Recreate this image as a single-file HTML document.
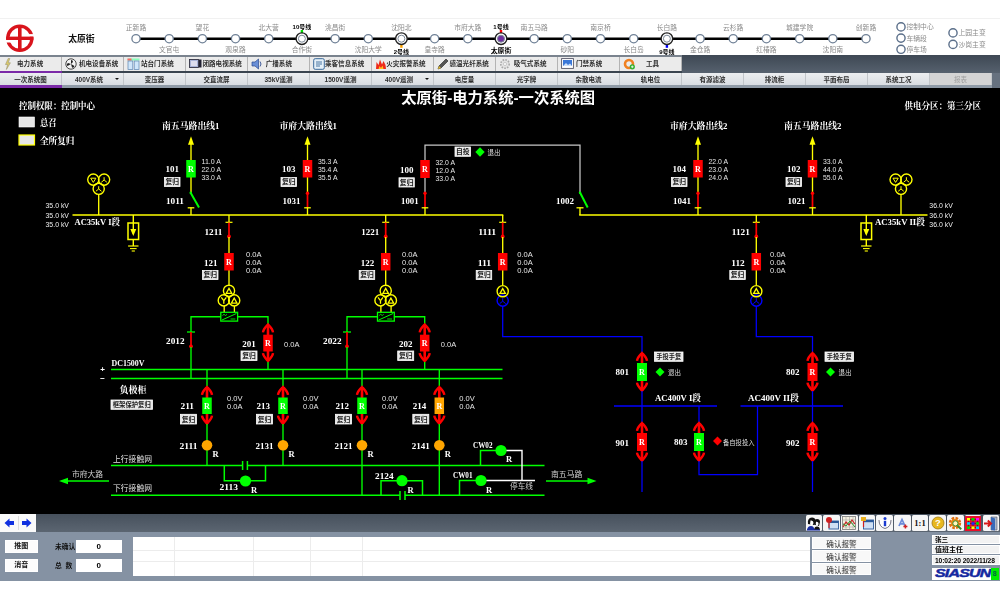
<!DOCTYPE html>
<html lang="zh-CN"><head><meta charset="utf-8"><title>太原街-电力系统-一次系统图</title>
<style>
html,body{margin:0;padding:0;background:#fff;}
body{width:1000px;height:600px;position:relative;overflow:hidden;font-family:"Liberation Sans","Noto Sans CJK SC",sans-serif;}
.sf{font-family:"Liberation Serif","Noto Serif CJK SC",serif;}
.ss{font-family:"Liberation Sans","Noto Sans CJK SC",sans-serif;}
#main{position:absolute;left:0;top:87.9px;width:1000px;height:425.9px;background:#000;}
#ov{position:absolute;left:0;top:0;width:1000px;height:600px;will-change:transform;}
.b1,.b2,.btn,.lab,.num,.ack,.inf{will-change:transform;}
#hdrline{position:absolute;left:0;top:18px;width:1000px;height:1px;background:#f1f1f1;}
#tb1{position:absolute;left:0;top:55px;width:1000px;height:18px;background:linear-gradient(#3e4854,#56616e);}
#tb2{position:absolute;left:0;top:73px;width:1000px;height:15px;background:#66717f;}
#tb1 .bg{position:absolute;left:0;top:0;width:682px;height:18px;background:#ebebeb;border-top:2px solid #7a838e;border-bottom:2px solid #3a4550;box-sizing:border-box;}
#tb2 .bg{position:absolute;left:0;top:0;width:992px;height:15px;background:linear-gradient(#eceef0,#d9dde2);border-bottom:3px solid #909ba7;box-sizing:border-box;}
.b1{position:absolute;top:2px;width:62px;height:14px;border-right:1px solid #b4b4b4;box-sizing:border-box;font-size:6.55px;font-weight:bold;color:#2e2e2e;white-space:nowrap;}
.b1.act::after{content:"";position:absolute;left:0;top:14px;width:62px;height:2px;background:#7a2aa8;}
.b1 .ic{position:absolute;left:3px;top:0.8px;line-height:0;}
.b1 .lb{position:absolute;left:17px;top:0.2px;line-height:14px;}
.b2{position:absolute;top:0;width:62px;height:12px;border-right:1px solid #c2c6ca;box-sizing:border-box;font-size:6.5px;font-weight:bold;color:#2e2e2e;line-height:13.4px;text-align:center;white-space:nowrap;}
.b2.act::after{content:"";position:absolute;left:0;top:12px;width:62px;height:3px;background:#7a2aa8;}
.b2.dis{color:#a0a0a0;background:#d4d4d4;font-weight:normal;}
.dd{position:absolute;right:4.5px;top:5.2px;width:0;height:0;border-left:2.2px solid transparent;border-right:2.2px solid transparent;border-top:2.8px solid #111;}
#bb{z-index:2;position:absolute;left:0;top:513.8px;width:1000px;height:18.5px;background:linear-gradient(#47515d,#5b6571);}
#navbg{position:absolute;left:0;top:0;width:36px;height:18.5px;background:#fafafa;}
.nav{position:absolute;top:2.2px;width:15px;height:14px;background:#fafafa;line-height:0;}
.bi{position:absolute;top:1.4px;width:16.7px;height:16px;background:#f6f6f6;border-radius:1.5px;box-sizing:border-box;display:flex;align-items:center;justify-content:center;line-height:0;}
#bp{position:absolute;left:0;top:531px;width:1000px;height:49.5px;background:#8592a3;}
.btn{position:absolute;background:#fcfcfc;border:1px solid #fff;box-sizing:border-box;font-size:7px;font-weight:bold;color:#111;text-align:center;}
.lab{position:absolute;font-size:7px;font-weight:bold;color:#111;white-space:nowrap;}
.num{position:absolute;background:#fff;font-size:8px;font-weight:bold;color:#000;text-align:center;}
#tbl{position:absolute;left:133px;top:6px;width:677px;height:39px;background:#fff;}
#tbl i{position:absolute;background:#ececec;display:block;}
.ack{position:absolute;left:812px;width:59px;height:12.4px;background:#f8f8f8;border:1px solid #fff;box-sizing:border-box;font-size:7.6px;color:#2a2a2a;text-align:center;line-height:13px;}
.inf{position:absolute;left:931.5px;width:67.5px;background:#f2f2f2;border:0.6px solid #fff;box-sizing:border-box;font-size:7.4px;font-weight:bold;color:#000;white-space:nowrap;padding-left:2px;}
</style></head><body>
<div id="hdrline"></div>
<div id="tb1"><div class="bg"></div><div class="b1 act" style="left:0px"><span class="ic"><svg width="10" height="12" viewBox="0 0 10 12"><path d="M5.2,0.5 L2.5,6.5 H4.6 L3.4,11.5 L7.4,4.8 H5.2 L6.8,0.5 Z" fill="#dccb6a" stroke="#9a9370" stroke-width="0.6"/></svg></span><span class="lb" style="left:17px">电力系统</span></div><div class="b1" style="left:62px"><span class="ic"><svg width="12" height="12" viewBox="0 0 12 12"><circle cx="6" cy="6" r="5.2" fill="#f4f4f4" stroke="#333" stroke-width="0.9"/><path d="M6,6 L6,2 A2,2 0 0 1 8,4 Z M6,6 L9.5,8 A2,2 0 0 1 7,9.5 Z M6,6 L2.5,8 A2,2 0 0 1 3,5 Z" fill="#222"/></svg></span><span class="lb" style="left:17px">机电设备系统</span></div><div class="b1" style="left:124px"><span class="ic"><svg width="13" height="12" viewBox="0 0 13 12"><rect x="0.5" y="0.5" width="12" height="2" fill="#8fb"/><rect x="0.5" y="0.5" width="4" height="2" fill="#f66"/><rect x="1" y="3" width="4.8" height="8.5" fill="#cfe6fa" stroke="#5b84b0" stroke-width="0.7"/><rect x="7.2" y="3" width="4.8" height="8.5" fill="#cfe6fa" stroke="#5b84b0" stroke-width="0.7"/></svg></span><span class="lb" style="left:17px">站台门系统</span></div><div class="b1" style="left:186px"><span class="ic"><svg width="13" height="11" viewBox="0 0 13 11"><rect x="0.5" y="1.5" width="9" height="8" fill="#aab4d8" stroke="#334" stroke-width="0.9"/><rect x="2" y="3" width="6" height="5" fill="#dde"/><rect x="10" y="1.5" width="2.5" height="8" fill="#223"/></svg></span><span class="lb" style="left:16.5px">闭路电视系统</span></div><div class="b1" style="left:248px"><span class="ic"><svg width="12" height="12" viewBox="0 0 12 12"><path d="M1,4 H4 L7.5,1 V11 L4,8 H1 Z" fill="#6a8fd6" stroke="#2b4a90" stroke-width="0.7"/><path d="M9,3.5 Q11,6 9,8.5" fill="none" stroke="#2b4a90" stroke-width="0.9"/></svg></span><span class="lb" style="left:17.75px">广播系统</span></div><div class="b1" style="left:310px"><span class="ic"><svg width="12" height="12" viewBox="0 0 12 12"><rect x="0.7" y="0.7" width="10.6" height="10.6" rx="1.5" fill="#e6f0f8" stroke="#3b6a9a" stroke-width="1"/><path d="M3,4 H9 M3,6 H9 M3,8 H7" stroke="#3b6a9a" stroke-width="0.9"/></svg></span><span class="lb" style="left:15px">乘客信息系统</span></div><div class="b1" style="left:372px"><span class="ic"><svg width="12" height="12" viewBox="0 0 12 12"><path d="M1,11 L1.5,4 L3.5,7 L5,1.5 L7,6.5 L8.5,3 L10.5,7 L11,11 Z" fill="#ee2a1a"/><path d="M3.5,11 L4.5,8 L6,10 L7.5,7.5 L8.5,11 Z" fill="#ffc020"/></svg></span><span class="lb" style="left:14.3px">火灾报警系统</span></div><div class="b1" style="left:434px"><span class="ic"><svg width="12" height="12" viewBox="0 0 12 12"><path d="M1,11 L2,8 L9,1 L11,3 L4,10 Z" fill="#555" stroke="#222" stroke-width="0.6"/><path d="M1,11 L2,8 L4,10 Z" fill="#e8c030"/></svg></span><span class="lb" style="left:15.5px">感温光纤系统</span></div><div class="b1" style="left:496px"><span class="ic"><svg width="12" height="12" viewBox="0 0 12 12"><circle cx="6" cy="6" r="4.2" fill="#e4e4e4" stroke="#aaa" stroke-width="1.6" stroke-dasharray="1.6 1.2"/><circle cx="6" cy="6" r="1.6" fill="#f8f8f8" stroke="#bbb" stroke-width="0.7"/></svg></span><span class="lb" style="left:17.75px">吸气式系统</span></div><div class="b1" style="left:558px"><span class="ic"><svg width="13" height="11" viewBox="0 0 13 11"><rect x="0.6" y="0.6" width="11.8" height="9.8" fill="#fff" stroke="#556" stroke-width="0.9"/><rect x="2" y="2" width="9" height="6" fill="#3b78d8"/><path d="M2,8 L5,5 L7,7 L9,5.5 L11,8 Z" fill="#cfe0f8"/></svg></span><span class="lb" style="left:18px">门禁系统</span></div><div class="b1" style="left:620px"><span class="ic"><svg width="13" height="12" viewBox="0 0 13 12"><circle cx="6" cy="6" r="4" fill="none" stroke="#f08020" stroke-width="2.6"/><circle cx="9.3" cy="8.8" r="2.6" fill="#30b030"/><path d="M8,8.8 H10.6 M9.3,7.5 V10.1" stroke="#fff" stroke-width="0.8"/></svg></span><span class="lb" style="left:26px">工具</span></div></div>
<div id="tb2"><div class="bg"></div><div class="b2 act" style="left:0px">一次系统图</div><div class="b2" style="left:62px;padding-right:7px">400V系统<span class="dd"></span></div><div class="b2" style="left:124px">变压器</div><div class="b2" style="left:186px">交直流屏</div><div class="b2" style="left:248px">35kV遥测</div><div class="b2" style="left:310px">1500V遥测</div><div class="b2" style="left:372px;padding-right:7px">400V遥测<span class="dd"></span></div><div class="b2" style="left:434px">电度量</div><div class="b2" style="left:496px">光字牌</div><div class="b2" style="left:558px">杂散电流</div><div class="b2" style="left:620px">轨电位</div><div class="b2" style="left:682px">有源滤波</div><div class="b2" style="left:744px">排流柜</div><div class="b2" style="left:806px">平面布局</div><div class="b2" style="left:868px">系统工况</div><div class="b2 dis" style="left:930px">报表</div></div>
<div id="main"></div>
<div id="bb"><div id="navbg"></div><div style="position:absolute;left:17.6px;top:2px;width:0.8px;height:14.5px;background:#ddd"></div>
 <div class="nav" style="left:1.7px"><svg width="15" height="14" viewBox="1 1 15 14"><path d="M3.5,8 L8.5,3.5 V6 H13 V10 H8.5 V12.5 Z" fill="#1030e0"/></svg></div>
 <div class="nav" style="left:18.7px"><svg width="15" height="14" viewBox="1 1 15 14"><path d="M13.5,8 L8.5,3.5 V6 H4 V10 H8.5 V12.5 Z" fill="#1030e0"/></svg></div>
 <div class="bi" style="left:805.5px"><svg width="15" height="15" viewBox="0 0 15 15"><path d="M2,8 Q1,2 6,1.5 Q9,1.5 9.5,4 L8,9 Z" fill="#111"/><path d="M7.5,8.5 Q7,3.5 11,3 Q14,3.2 14,6 L13,10 Z" fill="#111"/><path d="M4.5,4.5 Q7.5,4 7.5,7 Q7,9.5 5,9.5 Q3.5,8 4.5,4.5 Z" fill="#fff"/><path d="M10,5.8 Q12.8,5.6 12.6,8 Q12,10.2 10.5,10.2 Q9.2,9 10,5.8 Z" fill="#fff"/><path d="M1,14 Q1.5,10 5,10 Q8,10 8.5,14 Z" fill="#1a2ea0"/><path d="M8,14 Q8.5,10.6 11,10.6 Q13.6,10.6 14,14 Z" fill="#111"/><rect x="1" y="13.4" width="13" height="1.2" fill="#1a2ea0"/></svg></div><div class="bi" style="left:823.2px"><svg width="14" height="14" viewBox="0 0 14 14"><rect x="4" y="5" width="9.5" height="8" fill="#cfe0f4" stroke="#2b5a9a" stroke-width="0.9"/><rect x="4" y="5" width="9.5" height="2" fill="#2b5a9a"/><circle cx="4" cy="4" r="3" fill="#d02020"/><path d="M4,7 V12" stroke="#d02020" stroke-width="1.2"/></svg></div><div class="bi" style="left:840.9px"><svg width="14" height="14" viewBox="0 0 14 14"><rect x="0.5" y="0.5" width="13" height="13" fill="#f4f0e0" stroke="#777" stroke-width="0.8"/><path d="M0.5,4 H13.5 M0.5,7.5 H13.5 M0.5,11 H13.5 M4,0.5 V13.5 M7.5,0.5 V13.5 M11,0.5 V13.5" stroke="#999" stroke-width="0.5"/><path d="M1,11 L4,6 L7,9 L10,4 L13,8" stroke="#d02020" stroke-width="1.1" fill="none"/><path d="M1,8 L4,10 L8,5 L13,11" stroke="#2a9a2a" stroke-width="1" fill="none"/></svg></div><div class="bi" style="left:858.6px"><svg width="14" height="14" viewBox="0 0 14 14"><rect x="3.5" y="4" width="10" height="9" fill="#cfe0f4" stroke="#2b5a9a" stroke-width="0.9"/><rect x="3.5" y="4" width="10" height="2.2" fill="#2b5a9a"/><rect x="1" y="1" width="5" height="4" fill="#e8b020"/><path d="M3.5,5 V11" stroke="#d02020" stroke-width="1.2"/></svg></div><div class="bi" style="left:876.3px"><svg width="14" height="14" viewBox="0 0 14 14"><path d="M1,4 Q1,11 7,12.5 Q13,11 13,4" fill="#fff" stroke="#667" stroke-width="0.9"/><circle cx="7" cy="2.6" r="1.5" fill="#1a3ad0"/><rect x="5.8" y="4.8" width="2.4" height="5.4" fill="#1a3ad0"/></svg></div><div class="bi" style="left:894.0px"><svg width="14" height="14" viewBox="0 0 14 14"><path d="M4,10 L7,3.5 L10,10 M5.2,7.8 H8.8" stroke="#6a8ad8" stroke-width="1.7" fill="none"/><path d="M8.4,10.4 H12.4 M10.4,8.4 V12.4" stroke="#d02020" stroke-width="1.5"/></svg></div><div class="bi" style="left:911.7px"><svg width="14" height="14" viewBox="0 0 14 14"><text x="7" y="10.4" font-family="Liberation Serif,serif" font-size="8.5" font-weight="bold" text-anchor="middle" fill="#111">1:1</text></svg></div><div class="bi" style="left:929.4px"><svg width="14" height="14" viewBox="0 0 14 14"><circle cx="7" cy="7" r="6" fill="#e8b820" stroke="#a07a10" stroke-width="0.8"/><text x="7" y="10.4" font-family="Liberation Sans,sans-serif" font-size="9.5" font-weight="bold" text-anchor="middle" fill="#fff">?</text></svg></div><div class="bi" style="left:947.1px"><svg width="15" height="15" viewBox="0 0 15 15"><circle cx="7" cy="7" r="4.6" fill="none" stroke="#e07010" stroke-width="3.2" stroke-dasharray="2.4 1.2"/><circle cx="7" cy="7" r="4" fill="#e88a18"/><circle cx="7.4" cy="7.4" r="2.6" fill="#fff6c0" stroke="#3a8a2a" stroke-width="1"/><path d="M9.4,9.4 L13.2,13.2" stroke="#3a8a2a" stroke-width="2"/></svg></div><div class="bi" style="left:964.8px"><svg width="16" height="15" viewBox="0 0 16 15"><rect x="0" y="0" width="16" height="15" fill="#e8102a"/><path d="M3,3.5 H13 M3,7.5 H13 M3,11.5 H13 M3.5,3 V12 M8,3 V12 M12.5,3 V12" stroke="#222" stroke-width="0.6"/><rect x="2" y="2" width="3" height="2.6" fill="#ff0"/><rect x="6.5" y="2" width="3" height="2.6" fill="#0d0"/><rect x="11" y="2" width="3" height="2.6" fill="#f0f"/><rect x="2" y="6.2" width="3" height="2.6" fill="#0cf"/><rect x="6.5" y="6.2" width="3" height="2.6" fill="#22f"/><rect x="11" y="6.2" width="3" height="2.6" fill="#0d0"/><rect x="2" y="10.4" width="3" height="2.6" fill="#0d0"/><rect x="6.5" y="10.4" width="3" height="2.6" fill="#ff0"/><rect x="11" y="10.4" width="3" height="2.6" fill="#0cf"/></svg></div><div class="bi" style="left:982.5px"><svg width="15" height="15" viewBox="0 0 15 15"><path d="M8,1 H14 V14 H8 Z" fill="#aab8cc" stroke="#556" stroke-width="0.6"/><path d="M8,1 L12,2.5 V14.5 L8,14 Z" fill="#3a6ab8"/><path d="M1,7.5 H7.5 M4.8,4.6 L8,7.5 L4.8,10.4" stroke="#d81818" stroke-width="2" fill="none"/></svg></div>
</div>
<div id="bp">
 <div class="btn" style="left:5px;top:8.7px;width:32.5px;height:12.7px;line-height:10.7px;">推图</div>
 <div class="btn" style="left:5px;top:27.7px;width:32.5px;height:12.8px;line-height:10.8px;">消音</div>
 <div class="lab" style="left:54.5px;top:9.8px;font-size:6.8px">未确认</div>
 <div class="lab" style="left:54.5px;top:29px;font-size:6.8px">总&nbsp;&nbsp;数</div>
 <div class="num" style="left:76px;top:8.5px;width:45.7px;height:12.5px;line-height:13.6px;">0</div>
 <div class="num" style="left:76px;top:27.7px;width:45.7px;height:12.8px;line-height:13.8px;">0</div>
 <div id="tbl"><i style="left:0;top:12.5px;width:677px;height:1px"></i><i style="left:0;top:24px;width:677px;height:1px"></i><i style="left:40.7px;top:0;width:1px;height:39px"></i><i style="left:120px;top:0;width:1px;height:39px"></i><i style="left:177px;top:0;width:1px;height:39px"></i><i style="left:229px;top:0;width:1px;height:39px"></i></div>
 <div class="ack" style="top:6px">确认报警</div>
 <div class="ack" style="top:19px">确认报警</div>
 <div class="ack" style="top:32px">确认报警</div>
 <div class="inf" style="top:3.7px;height:9.3px;line-height:8.6px;font-size:6.6px;">张三</div>
 <div class="inf" style="top:14px;height:9.3px;line-height:8.6px;font-size:7px;">值班主任</div>
 <div class="inf" style="top:24.3px;height:9.7px;line-height:9px;font-size:6.7px;letter-spacing:-0.1px;">10:02:20 2022/11/28</div>
 <div style="position:absolute;left:931.5px;top:36.5px;width:67.5px;height:12.5px;background:#fff;"></div>
 <div style="position:absolute;left:935px;top:36px;width:56px;height:13px;line-height:13px;font-size:11.5px;font-weight:bold;font-style:italic;color:#1428a0;-webkit-text-stroke:0.45px #1428a0;letter-spacing:-0.6px;transform:scaleX(1.39);transform-origin:left;">SIASUN</div>
 <div style="position:absolute;left:991px;top:37px;width:7.5px;height:12px;background:#00ee00;font-size:7px;font-weight:bold;line-height:12px;text-align:center;color:#064;">8</div>
</div>
<svg id="ov" viewBox="0 0 1000 600" width="1000" height="600">
<line x1="136.0" y1="38.7" x2="866.0" y2="38.7" stroke="#000" stroke-width="2.6"/>
<circle cx="136.0" cy="38.7" r="4.1" fill="#fff" stroke="#6f8096" stroke-width="1.3"/>
<text class="ss" x="136.0" y="29.9" font-size="6.8" fill="#8a8a8a" text-anchor="middle">正新路</text>
<circle cx="169.2" cy="38.7" r="4.1" fill="#fff" stroke="#6f8096" stroke-width="1.3"/>
<text class="ss" x="169.2" y="52.3" font-size="6.8" fill="#8a8a8a" text-anchor="middle">文官屯</text>
<circle cx="202.4" cy="38.7" r="4.1" fill="#fff" stroke="#6f8096" stroke-width="1.3"/>
<text class="ss" x="202.4" y="29.9" font-size="6.8" fill="#8a8a8a" text-anchor="middle">望花</text>
<circle cx="235.5" cy="38.7" r="4.1" fill="#fff" stroke="#6f8096" stroke-width="1.3"/>
<text class="ss" x="235.5" y="52.3" font-size="6.8" fill="#8a8a8a" text-anchor="middle">观泉路</text>
<circle cx="268.7" cy="38.7" r="4.1" fill="#fff" stroke="#6f8096" stroke-width="1.3"/>
<text class="ss" x="268.7" y="29.9" font-size="6.8" fill="#8a8a8a" text-anchor="middle">北大营</text>
<rect x="300.7" y="30" width="2.4" height="3.2" fill="#00dd00"/>
<text class="ss" x="301.9" y="29" font-size="6" font-weight="bold" fill="#000" text-anchor="middle">10号线</text>
<circle cx="301.9" cy="38.7" r="5.8" fill="#fff" stroke="#222" stroke-width="1.4"/>
<circle cx="301.9" cy="38.7" r="3.5" fill="#fff" stroke="#7a8796" stroke-width="1"/>
<text class="ss" x="301.9" y="52.3" font-size="6.8" fill="#8a8a8a" text-anchor="middle">合作街</text>
<circle cx="335.1" cy="38.7" r="4.1" fill="#fff" stroke="#6f8096" stroke-width="1.3"/>
<text class="ss" x="335.1" y="29.9" font-size="6.8" fill="#8a8a8a" text-anchor="middle">洮昌街</text>
<circle cx="368.3" cy="38.7" r="4.1" fill="#fff" stroke="#6f8096" stroke-width="1.3"/>
<text class="ss" x="368.3" y="52.3" font-size="6.8" fill="#8a8a8a" text-anchor="middle">沈阳大学</text>
<rect x="400.2" y="44.6" width="2.4" height="3.2" fill="#ffa500"/>
<text class="ss" x="401.4" y="54" font-size="6" font-weight="bold" fill="#000" text-anchor="middle">2号线</text>
<circle cx="401.4" cy="38.7" r="5.8" fill="#fff" stroke="#222" stroke-width="1.4"/>
<circle cx="401.4" cy="38.7" r="3.5" fill="#fff" stroke="#7a8796" stroke-width="1"/>
<text class="ss" x="401.4" y="29.9" font-size="6.8" fill="#8a8a8a" text-anchor="middle">沈阳北</text>
<circle cx="434.6" cy="38.7" r="4.1" fill="#fff" stroke="#6f8096" stroke-width="1.3"/>
<text class="ss" x="434.6" y="52.3" font-size="6.8" fill="#8a8a8a" text-anchor="middle">皇寺路</text>
<circle cx="467.8" cy="38.7" r="4.1" fill="#fff" stroke="#6f8096" stroke-width="1.3"/>
<text class="ss" x="467.8" y="29.9" font-size="6.8" fill="#8a8a8a" text-anchor="middle">市府大路</text>
<rect x="499.8" y="30" width="2.4" height="3.2" fill="#ff0000"/>
<text class="ss" x="501.0" y="29" font-size="6" font-weight="bold" fill="#000" text-anchor="middle">1号线</text>
<circle cx="501.0" cy="38.7" r="5.8" fill="#fff" stroke="#222" stroke-width="1.4"/>
<circle cx="501.0" cy="38.7" r="3.5" fill="#7030a0" stroke="#7a8796" stroke-width="1"/>
<text class="ss" x="501.0" y="52.5" font-size="6.9" font-weight="bold" fill="#000" text-anchor="middle">太原街</text>
<circle cx="534.2" cy="38.7" r="4.1" fill="#fff" stroke="#6f8096" stroke-width="1.3"/>
<text class="ss" x="534.2" y="29.9" font-size="6.8" fill="#8a8a8a" text-anchor="middle">南五马路</text>
<circle cx="567.3" cy="38.7" r="4.1" fill="#fff" stroke="#6f8096" stroke-width="1.3"/>
<text class="ss" x="567.3" y="52.3" font-size="6.8" fill="#8a8a8a" text-anchor="middle">砂阳</text>
<circle cx="600.5" cy="38.7" r="4.1" fill="#fff" stroke="#6f8096" stroke-width="1.3"/>
<text class="ss" x="600.5" y="29.9" font-size="6.8" fill="#8a8a8a" text-anchor="middle">南京桥</text>
<circle cx="633.7" cy="38.7" r="4.1" fill="#fff" stroke="#6f8096" stroke-width="1.3"/>
<text class="ss" x="633.7" y="52.3" font-size="6.8" fill="#8a8a8a" text-anchor="middle">长白岛</text>
<rect x="665.7" y="44.6" width="2.4" height="3.2" fill="#0000ff"/>
<text class="ss" x="666.9" y="54" font-size="6" font-weight="bold" fill="#000" text-anchor="middle">9号线</text>
<circle cx="666.9" cy="38.7" r="5.8" fill="#fff" stroke="#222" stroke-width="1.4"/>
<circle cx="666.9" cy="38.7" r="3.5" fill="#fff" stroke="#7a8796" stroke-width="1"/>
<text class="ss" x="666.9" y="29.9" font-size="6.8" fill="#8a8a8a" text-anchor="middle">长白路</text>
<circle cx="700.1" cy="38.7" r="4.1" fill="#fff" stroke="#6f8096" stroke-width="1.3"/>
<text class="ss" x="700.1" y="52.3" font-size="6.8" fill="#8a8a8a" text-anchor="middle">金仓路</text>
<circle cx="733.2" cy="38.7" r="4.1" fill="#fff" stroke="#6f8096" stroke-width="1.3"/>
<text class="ss" x="733.2" y="29.9" font-size="6.8" fill="#8a8a8a" text-anchor="middle">云杉路</text>
<circle cx="766.4" cy="38.7" r="4.1" fill="#fff" stroke="#6f8096" stroke-width="1.3"/>
<text class="ss" x="766.4" y="52.3" font-size="6.8" fill="#8a8a8a" text-anchor="middle">红椿路</text>
<circle cx="799.6" cy="38.7" r="4.1" fill="#fff" stroke="#6f8096" stroke-width="1.3"/>
<text class="ss" x="799.6" y="29.9" font-size="6.8" fill="#8a8a8a" text-anchor="middle">城建学院</text>
<circle cx="832.8" cy="38.7" r="4.1" fill="#fff" stroke="#6f8096" stroke-width="1.3"/>
<text class="ss" x="832.8" y="52.3" font-size="6.8" fill="#8a8a8a" text-anchor="middle">沈阳南</text>
<circle cx="866.0" cy="38.7" r="4.1" fill="#fff" stroke="#6f8096" stroke-width="1.3"/>
<text class="ss" x="866.0" y="29.9" font-size="6.8" fill="#8a8a8a" text-anchor="middle">创新路</text>
<circle cx="901" cy="26.9" r="4.1" fill="#fff" stroke="#5b6f8a" stroke-width="1.4"/>
<text class="ss" x="906.5" y="29.4" font-size="6.8" fill="#8a8a8a">控制中心</text>
<circle cx="901" cy="38.1" r="4.1" fill="#fff" stroke="#5b6f8a" stroke-width="1.4"/>
<text class="ss" x="906.5" y="40.6" font-size="6.8" fill="#8a8a8a">车辆段</text>
<circle cx="901" cy="49.3" r="4.1" fill="#fff" stroke="#5b6f8a" stroke-width="1.4"/>
<text class="ss" x="906.5" y="51.8" font-size="6.8" fill="#8a8a8a">停车场</text>
<circle cx="953" cy="32.9" r="4.1" fill="#fff" stroke="#5b6f8a" stroke-width="1.4"/>
<text class="ss" x="958.5" y="35.4" font-size="6.8" fill="#8a8a8a">上园主变</text>
<circle cx="953" cy="44.4" r="4.1" fill="#fff" stroke="#5b6f8a" stroke-width="1.4"/>
<text class="ss" x="958.5" y="46.9" font-size="6.8" fill="#8a8a8a">沙岗主变</text>
<g transform="translate(19.8,38.3)"><circle r="12.1" fill="none" stroke="#d9141c" stroke-width="3.3"/><rect x="8" y="-4.2" width="7" height="2.6" fill="#fff"/><rect x="-15" y="1.6" width="7" height="2.6" fill="#fff"/><rect x="-13.6" y="-1.7" width="27.2" height="3.4" fill="#d9141c"/><rect x="-1.8" y="-12.5" width="3.6" height="25" fill="#d9141c"/></g>
<text class="ss" x="68.2" y="41.6" font-size="9" font-weight="bold" fill="#111" textLength="26.5" lengthAdjust="spacingAndGlyphs">太原街</text>
<text class="ss" x="498.2" y="102.7" font-size="15" fill="#fff" font-weight="bold" text-anchor="middle" textLength="194" lengthAdjust="spacingAndGlyphs">太原街-电力系统-一次系统图</text>
<text class="sf" x="19" y="108.54" font-size="9" fill="#fff" font-weight="bold" text-anchor="start" textLength="76" lengthAdjust="spacingAndGlyphs">控制权限：控制中心</text>
<text class="sf" x="904.5" y="108.54" font-size="9" fill="#fff" font-weight="bold" text-anchor="start" textLength="76.5" lengthAdjust="spacingAndGlyphs">供电分区：第三分区</text>
<rect x="19" y="117" width="15.5" height="10" fill="#e6e6e6" stroke="#fff" stroke-width="0.6"/>
<text class="sf" x="40" y="125.54" font-size="9" fill="#fff" font-weight="bold" text-anchor="start" textLength="16.5" lengthAdjust="spacingAndGlyphs">总召</text>
<rect x="19" y="135" width="15.5" height="10" fill="#e6e6e6" stroke="#ffff00" stroke-width="1.2"/>
<text class="sf" x="40" y="143.54" font-size="9" fill="#fff" font-weight="bold" text-anchor="start" textLength="34.5" lengthAdjust="spacingAndGlyphs">全所复归</text>
<line x1="72.5" y1="215" x2="503.3" y2="215" stroke="#ffff00" stroke-width="1.6"/>
<line x1="579.2" y1="215" x2="927.5" y2="215" stroke="#ffff00" stroke-width="1.6"/>
<circle cx="93.3" cy="179.6" r="5.6" fill="none" stroke="#ffff00" stroke-width="1.4"/>
<circle cx="104.10000000000001" cy="179.6" r="5.6" fill="none" stroke="#ffff00" stroke-width="1.4"/>
<circle cx="98.7" cy="188.8" r="5.6" fill="none" stroke="#ffff00" stroke-width="1.4"/>
<polygon points="90.7,178.2 95.9,178.2 93.3,182.4" fill="none" stroke="#ffff00" stroke-width="1"/>
<line x1="104.10000000000001" y1="180" x2="104.10000000000001" y2="177.2" stroke="#ffff00" stroke-width="1"/>
<line x1="104.10000000000001" y1="180" x2="101.30000000000001" y2="182.24" stroke="#ffff00" stroke-width="1"/>
<line x1="104.10000000000001" y1="180" x2="106.9" y2="182.24" stroke="#ffff00" stroke-width="1"/>
<line x1="98.7" y1="189" x2="98.7" y2="186.2" stroke="#ffff00" stroke-width="1"/>
<line x1="98.7" y1="189" x2="95.9" y2="191.24" stroke="#ffff00" stroke-width="1"/>
<line x1="98.7" y1="189" x2="101.5" y2="191.24" stroke="#ffff00" stroke-width="1"/>
<line x1="98.7" y1="194" x2="98.7" y2="215" stroke="#ffff00" stroke-width="1.35"/>
<circle cx="895.6" cy="179.6" r="5.6" fill="none" stroke="#ffff00" stroke-width="1.4"/>
<circle cx="906.4" cy="179.6" r="5.6" fill="none" stroke="#ffff00" stroke-width="1.4"/>
<circle cx="901" cy="188.8" r="5.6" fill="none" stroke="#ffff00" stroke-width="1.4"/>
<polygon points="893,178.2 898.2,178.2 895.6,182.4" fill="none" stroke="#ffff00" stroke-width="1"/>
<line x1="906.4" y1="180" x2="906.4" y2="177.2" stroke="#ffff00" stroke-width="1"/>
<line x1="906.4" y1="180" x2="903.6" y2="182.24" stroke="#ffff00" stroke-width="1"/>
<line x1="906.4" y1="180" x2="909.1999999999999" y2="182.24" stroke="#ffff00" stroke-width="1"/>
<line x1="901" y1="189" x2="901" y2="186.2" stroke="#ffff00" stroke-width="1"/>
<line x1="901" y1="189" x2="898.2" y2="191.24" stroke="#ffff00" stroke-width="1"/>
<line x1="901" y1="189" x2="903.8" y2="191.24" stroke="#ffff00" stroke-width="1"/>
<line x1="901" y1="194" x2="901" y2="215" stroke="#ffff00" stroke-width="1.35"/>
<line x1="133.3" y1="215" x2="133.3" y2="234" stroke="#ffff00" stroke-width="1.4"/>
<rect x="128.0" y="223" width="10.6" height="16.5" fill="none" stroke="#ffff00" stroke-width="1.5"/>
<polygon points="130.3,229 136.3,229 133.3,236" fill="#ffff00"/>
<line x1="133.3" y1="239.5" x2="133.3" y2="246" stroke="#ffff00" stroke-width="1.4"/>
<line x1="128.10000000000002" y1="246" x2="138.5" y2="246" stroke="#ffff00" stroke-width="1.2"/>
<line x1="130.0" y1="248.6" x2="136.60000000000002" y2="248.6" stroke="#ffff00" stroke-width="1.1"/>
<line x1="131.70000000000002" y1="251" x2="134.9" y2="251" stroke="#ffff00" stroke-width="1.1"/>
<line x1="866.3" y1="215" x2="866.3" y2="234" stroke="#ffff00" stroke-width="1.4"/>
<rect x="861.0" y="223" width="10.6" height="16.5" fill="none" stroke="#ffff00" stroke-width="1.5"/>
<polygon points="863.3,229 869.3,229 866.3,236" fill="#ffff00"/>
<line x1="866.3" y1="239.5" x2="866.3" y2="246" stroke="#ffff00" stroke-width="1.4"/>
<line x1="861.0999999999999" y1="246" x2="871.5" y2="246" stroke="#ffff00" stroke-width="1.2"/>
<line x1="863.0" y1="248.6" x2="869.5999999999999" y2="248.6" stroke="#ffff00" stroke-width="1.1"/>
<line x1="864.6999999999999" y1="251" x2="867.9" y2="251" stroke="#ffff00" stroke-width="1.1"/>
<text class="ss" x="45.5" y="207.74" font-size="7.6" fill="#f0f0f0" font-weight="normal" text-anchor="start" textLength="23.5" lengthAdjust="spacingAndGlyphs">35.0 kV</text>
<text class="ss" x="929.3" y="207.74" font-size="7.6" fill="#f0f0f0" font-weight="normal" text-anchor="start" textLength="23.5" lengthAdjust="spacingAndGlyphs">36.0 kV</text>
<text class="ss" x="45.5" y="217.54" font-size="7.6" fill="#f0f0f0" font-weight="normal" text-anchor="start" textLength="23.5" lengthAdjust="spacingAndGlyphs">35.0 kV</text>
<text class="ss" x="929.3" y="217.54" font-size="7.6" fill="#f0f0f0" font-weight="normal" text-anchor="start" textLength="23.5" lengthAdjust="spacingAndGlyphs">36.0 kV</text>
<text class="ss" x="45.5" y="226.74" font-size="7.6" fill="#f0f0f0" font-weight="normal" text-anchor="start" textLength="23.5" lengthAdjust="spacingAndGlyphs">35.0 kV</text>
<text class="ss" x="929.3" y="226.74" font-size="7.6" fill="#f0f0f0" font-weight="normal" text-anchor="start" textLength="23.5" lengthAdjust="spacingAndGlyphs">36.0 kV</text>
<text class="sf" x="74.5" y="225.24" font-size="9" fill="#fff" font-weight="bold" text-anchor="start" textLength="45.5" lengthAdjust="spacingAndGlyphs">AC35kV I段</text>
<text class="sf" x="875" y="225.24" font-size="9" fill="#fff" font-weight="bold" text-anchor="start" textLength="50" lengthAdjust="spacingAndGlyphs">AC35kV II段</text>
<text class="sf" x="162" y="129.24" font-size="9" fill="#fff" font-weight="bold" text-anchor="start" textLength="57.5" lengthAdjust="spacingAndGlyphs">南五马路出线1</text>
<polygon points="191,136.2 188,144.8 194,144.8" fill="#ffff00"/>
<line x1="191" y1="144" x2="191" y2="193" stroke="#ffff00" stroke-width="1.35"/>
<rect x="186.25" y="160" width="9.5" height="17.5" fill="#00ff00" stroke="none" stroke-width="1"/>
<text class="sf" x="191" y="171.93" font-size="8" fill="#fff" font-weight="bold" text-anchor="middle">R</text>
<text class="sf" x="165.5" y="172.24" font-size="9" fill="#fff" font-weight="bold" text-anchor="start" textLength="13.5" lengthAdjust="spacingAndGlyphs">101</text>
<rect x="164.5" y="177.5" width="15.5" height="9.0" fill="#e8e8e8" stroke="#fff" stroke-width="0.8"/>
<text class="ss" x="172.25" y="184.45" font-size="6.8" fill="#1a1a1a" font-weight="bold" text-anchor="middle">复归</text>
<text class="sf" x="166" y="204.24" font-size="9" fill="#fff" font-weight="bold" text-anchor="start" textLength="18" lengthAdjust="spacingAndGlyphs">1011</text>
<text class="ss" x="201.5" y="163.74" font-size="7.6" fill="#e6e6e6" font-weight="normal" text-anchor="start" textLength="19.5" lengthAdjust="spacingAndGlyphs">11.0 A</text>
<text class="ss" x="201.5" y="171.74" font-size="7.6" fill="#e6e6e6" font-weight="normal" text-anchor="start" textLength="19.5" lengthAdjust="spacingAndGlyphs">22.0 A</text>
<text class="ss" x="201.5" y="179.74" font-size="7.6" fill="#e6e6e6" font-weight="normal" text-anchor="start" textLength="19.5" lengthAdjust="spacingAndGlyphs">33.0 A</text>
<line x1="190.5" y1="192.5" x2="199" y2="207.5" stroke="#00ff00" stroke-width="2"/>
<circle cx="190.7" cy="192.8" r="1.2" fill="#00ff00" stroke="none" stroke-width="1.4"/>
<line x1="187.7" y1="207.8" x2="194.3" y2="207.8" stroke="#ffff00" stroke-width="1.3"/>
<line x1="191" y1="207.5" x2="191" y2="215" stroke="#ffff00" stroke-width="1.35"/>
<text class="sf" x="279.5" y="129.24" font-size="9" fill="#fff" font-weight="bold" text-anchor="start" textLength="57.5" lengthAdjust="spacingAndGlyphs">市府大路出线1</text>
<polygon points="307.5,136.2 304.5,144.8 310.5,144.8" fill="#ffff00"/>
<line x1="307.5" y1="144" x2="307.5" y2="193" stroke="#ffff00" stroke-width="1.35"/>
<rect x="302.75" y="160" width="9.5" height="17.5" fill="#ff0000" stroke="none" stroke-width="1"/>
<text class="sf" x="307.5" y="171.93" font-size="8" fill="#fff" font-weight="bold" text-anchor="middle">R</text>
<text class="sf" x="282.0" y="172.24" font-size="9" fill="#fff" font-weight="bold" text-anchor="start" textLength="13.5" lengthAdjust="spacingAndGlyphs">103</text>
<rect x="281.0" y="177.5" width="15.5" height="9.0" fill="#e8e8e8" stroke="#fff" stroke-width="0.8"/>
<text class="ss" x="288.75" y="184.45" font-size="6.8" fill="#1a1a1a" font-weight="bold" text-anchor="middle">复归</text>
<text class="sf" x="282.5" y="204.24" font-size="9" fill="#fff" font-weight="bold" text-anchor="start" textLength="18" lengthAdjust="spacingAndGlyphs">1031</text>
<text class="ss" x="318.0" y="163.74" font-size="7.6" fill="#e6e6e6" font-weight="normal" text-anchor="start" textLength="19.5" lengthAdjust="spacingAndGlyphs">35.3 A</text>
<text class="ss" x="318.0" y="171.74" font-size="7.6" fill="#e6e6e6" font-weight="normal" text-anchor="start" textLength="19.5" lengthAdjust="spacingAndGlyphs">35.4 A</text>
<text class="ss" x="318.0" y="179.74" font-size="7.6" fill="#e6e6e6" font-weight="normal" text-anchor="start" textLength="19.5" lengthAdjust="spacingAndGlyphs">35.5 A</text>
<line x1="307.5" y1="192.5" x2="307.5" y2="207.5" stroke="#ff0000" stroke-width="1.7"/>
<circle cx="307.5" cy="193.3" r="1.7" fill="#ff0000" stroke="none" stroke-width="1.4"/>
<line x1="304.2" y1="207.8" x2="310.8" y2="207.8" stroke="#ffff00" stroke-width="1.3"/>
<line x1="307.5" y1="207.5" x2="307.5" y2="215" stroke="#ffff00" stroke-width="1.35"/>
<text class="sf" x="670" y="129.24" font-size="9" fill="#fff" font-weight="bold" text-anchor="start" textLength="57.5" lengthAdjust="spacingAndGlyphs">市府大路出线2</text>
<polygon points="698,136.2 695,144.8 701,144.8" fill="#ffff00"/>
<line x1="698" y1="144" x2="698" y2="193" stroke="#ffff00" stroke-width="1.35"/>
<rect x="693.25" y="160" width="9.5" height="17.5" fill="#ff0000" stroke="none" stroke-width="1"/>
<text class="sf" x="698" y="171.93" font-size="8" fill="#fff" font-weight="bold" text-anchor="middle">R</text>
<text class="sf" x="672.5" y="172.24" font-size="9" fill="#fff" font-weight="bold" text-anchor="start" textLength="13.5" lengthAdjust="spacingAndGlyphs">104</text>
<rect x="671.5" y="177.5" width="15.5" height="9.0" fill="#e8e8e8" stroke="#fff" stroke-width="0.8"/>
<text class="ss" x="679.25" y="184.45" font-size="6.8" fill="#1a1a1a" font-weight="bold" text-anchor="middle">复归</text>
<text class="sf" x="673" y="204.24" font-size="9" fill="#fff" font-weight="bold" text-anchor="start" textLength="18" lengthAdjust="spacingAndGlyphs">1041</text>
<text class="ss" x="708.5" y="163.74" font-size="7.6" fill="#e6e6e6" font-weight="normal" text-anchor="start" textLength="19.5" lengthAdjust="spacingAndGlyphs">22.0 A</text>
<text class="ss" x="708.5" y="171.74" font-size="7.6" fill="#e6e6e6" font-weight="normal" text-anchor="start" textLength="19.5" lengthAdjust="spacingAndGlyphs">23.0 A</text>
<text class="ss" x="708.5" y="179.74" font-size="7.6" fill="#e6e6e6" font-weight="normal" text-anchor="start" textLength="19.5" lengthAdjust="spacingAndGlyphs">24.0 A</text>
<line x1="698" y1="192.5" x2="698" y2="207.5" stroke="#ff0000" stroke-width="1.7"/>
<circle cx="698" cy="193.3" r="1.7" fill="#ff0000" stroke="none" stroke-width="1.4"/>
<line x1="694.7" y1="207.8" x2="701.3" y2="207.8" stroke="#ffff00" stroke-width="1.3"/>
<line x1="698" y1="207.5" x2="698" y2="215" stroke="#ffff00" stroke-width="1.35"/>
<text class="sf" x="784" y="129.24" font-size="9" fill="#fff" font-weight="bold" text-anchor="start" textLength="57.5" lengthAdjust="spacingAndGlyphs">南五马路出线2</text>
<polygon points="812.5,136.2 809.5,144.8 815.5,144.8" fill="#ffff00"/>
<line x1="812.5" y1="144" x2="812.5" y2="193" stroke="#ffff00" stroke-width="1.35"/>
<rect x="807.75" y="160" width="9.5" height="17.5" fill="#ff0000" stroke="none" stroke-width="1"/>
<text class="sf" x="812.5" y="171.93" font-size="8" fill="#fff" font-weight="bold" text-anchor="middle">R</text>
<text class="sf" x="787.0" y="172.24" font-size="9" fill="#fff" font-weight="bold" text-anchor="start" textLength="13.5" lengthAdjust="spacingAndGlyphs">102</text>
<rect x="786.0" y="177.5" width="15.5" height="9.0" fill="#e8e8e8" stroke="#fff" stroke-width="0.8"/>
<text class="ss" x="793.75" y="184.45" font-size="6.8" fill="#1a1a1a" font-weight="bold" text-anchor="middle">复归</text>
<text class="sf" x="787.5" y="204.24" font-size="9" fill="#fff" font-weight="bold" text-anchor="start" textLength="18" lengthAdjust="spacingAndGlyphs">1021</text>
<text class="ss" x="823.0" y="163.74" font-size="7.6" fill="#e6e6e6" font-weight="normal" text-anchor="start" textLength="19.5" lengthAdjust="spacingAndGlyphs">33.0 A</text>
<text class="ss" x="823.0" y="171.74" font-size="7.6" fill="#e6e6e6" font-weight="normal" text-anchor="start" textLength="19.5" lengthAdjust="spacingAndGlyphs">44.0 A</text>
<text class="ss" x="823.0" y="179.74" font-size="7.6" fill="#e6e6e6" font-weight="normal" text-anchor="start" textLength="19.5" lengthAdjust="spacingAndGlyphs">55.0 A</text>
<line x1="812.5" y1="192.5" x2="812.5" y2="207.5" stroke="#ff0000" stroke-width="1.7"/>
<circle cx="812.5" cy="193.3" r="1.7" fill="#ff0000" stroke="none" stroke-width="1.4"/>
<line x1="809.2" y1="207.8" x2="815.8" y2="207.8" stroke="#ffff00" stroke-width="1.3"/>
<line x1="812.5" y1="207.5" x2="812.5" y2="215" stroke="#ffff00" stroke-width="1.35"/>
<polyline points="425,160 425,145 580,145 580,192.5" stroke="#c8c8c8" stroke-width="1.25" fill="none"/>
<line x1="425" y1="177" x2="425" y2="193" stroke="#c8c8c8" stroke-width="1.25"/>
<rect x="420.25" y="160" width="9.5" height="18" fill="#ff0000" stroke="none" stroke-width="1"/>
<text class="sf" x="425" y="172.18" font-size="8" fill="#fff" font-weight="bold" text-anchor="middle">R</text>
<text class="sf" x="400" y="172.74" font-size="9" fill="#fff" font-weight="bold" text-anchor="start" textLength="13.5" lengthAdjust="spacingAndGlyphs">100</text>
<rect x="399" y="177.8" width="15.300000000000011" height="9.199999999999989" fill="#e8e8e8" stroke="#fff" stroke-width="0.8"/>
<text class="ss" x="406.65" y="184.85" font-size="6.8" fill="#1a1a1a" font-weight="bold" text-anchor="middle">复归</text>
<text class="sf" x="401" y="204.24" font-size="9" fill="#fff" font-weight="bold" text-anchor="start" textLength="17.5" lengthAdjust="spacingAndGlyphs">1001</text>
<text class="ss" x="435.5" y="164.74" font-size="7.6" fill="#e6e6e6" font-weight="normal" text-anchor="start" textLength="19.5" lengthAdjust="spacingAndGlyphs">32.0 A</text>
<text class="ss" x="435.5" y="172.74" font-size="7.6" fill="#e6e6e6" font-weight="normal" text-anchor="start" textLength="19.5" lengthAdjust="spacingAndGlyphs">12.0 A</text>
<text class="ss" x="435.5" y="180.74" font-size="7.6" fill="#e6e6e6" font-weight="normal" text-anchor="start" textLength="19.5" lengthAdjust="spacingAndGlyphs">33.0 A</text>
<line x1="425" y1="192.5" x2="425" y2="207.5" stroke="#ff0000" stroke-width="1.7"/>
<circle cx="425" cy="193.3" r="1.7" fill="#ff0000" stroke="none" stroke-width="1.4"/>
<line x1="421.7" y1="207.8" x2="428.3" y2="207.8" stroke="#ffff00" stroke-width="1.3"/>
<line x1="425" y1="207.5" x2="425" y2="215" stroke="#ffff00" stroke-width="1.35"/>
<rect x="455" y="147" width="15.5" height="9.300000000000011" fill="#e8e8e8" stroke="#fff" stroke-width="0.8"/>
<text class="ss" x="462.75" y="154.1" font-size="6.8" fill="#1a1a1a" font-weight="bold" text-anchor="middle">自投</text>
<polygon points="480,147.3 484.7,152 480,156.7 475.3,152" fill="#00ff00"/>
<text class="ss" x="487.5" y="154.52" font-size="7" fill="#dedede" font-weight="normal" text-anchor="start" textLength="13" lengthAdjust="spacingAndGlyphs">退出</text>
<line x1="580" y1="192.5" x2="587.7" y2="207.5" stroke="#00ff00" stroke-width="2"/>
<circle cx="580" cy="192.8" r="1.2" fill="#00ff00" stroke="none" stroke-width="1.4"/>
<line x1="576.5" y1="207.8" x2="583.5" y2="207.8" stroke="#ffff00" stroke-width="1.3"/>
<line x1="580" y1="207.5" x2="580" y2="215" stroke="#ffff00" stroke-width="1.35"/>
<text class="sf" x="556" y="204.24" font-size="9" fill="#fff" font-weight="bold" text-anchor="start" textLength="18" lengthAdjust="spacingAndGlyphs">1002</text>
<line x1="225.5" y1="222.3" x2="232.5" y2="222.3" stroke="#ffff00" stroke-width="1.2"/>
<line x1="229" y1="215" x2="229" y2="222.5" stroke="#ffff00" stroke-width="1.35"/>
<line x1="229" y1="222.5" x2="229" y2="236.5" stroke="#ff0000" stroke-width="1.7"/>
<circle cx="229" cy="236.5" r="1.9" fill="#ff0000" stroke="none" stroke-width="1.4"/>
<line x1="229" y1="237" x2="229" y2="285" stroke="#ffff00" stroke-width="1.35"/>
<rect x="224.25" y="253" width="9.5" height="17.5" fill="#ff0000" stroke="none" stroke-width="1"/>
<text class="sf" x="229" y="264.93" font-size="8" fill="#fff" font-weight="bold" text-anchor="middle">R</text>
<text class="sf" x="204.5" y="235.24" font-size="9" fill="#fff" font-weight="bold" text-anchor="start" textLength="18" lengthAdjust="spacingAndGlyphs">1211</text>
<text class="sf" x="204" y="265.74" font-size="9" fill="#fff" font-weight="bold" text-anchor="start" textLength="13.5" lengthAdjust="spacingAndGlyphs">121</text>
<rect x="202.5" y="270.5" width="15.5" height="9.0" fill="#e8e8e8" stroke="#fff" stroke-width="0.8"/>
<text class="ss" x="210.25" y="277.45" font-size="6.8" fill="#1a1a1a" font-weight="bold" text-anchor="middle">复归</text>
<text class="ss" x="246" y="256.74" font-size="7.6" fill="#e6e6e6" font-weight="normal" text-anchor="start" textLength="15.5" lengthAdjust="spacingAndGlyphs">0.0A</text>
<text class="ss" x="246" y="264.74" font-size="7.6" fill="#e6e6e6" font-weight="normal" text-anchor="start" textLength="15.5" lengthAdjust="spacingAndGlyphs">0.0A</text>
<text class="ss" x="246" y="272.74" font-size="7.6" fill="#e6e6e6" font-weight="normal" text-anchor="start" textLength="15.5" lengthAdjust="spacingAndGlyphs">0.0A</text>
<line x1="382.2" y1="222.3" x2="389.2" y2="222.3" stroke="#ffff00" stroke-width="1.2"/>
<line x1="385.7" y1="215" x2="385.7" y2="222.5" stroke="#ffff00" stroke-width="1.35"/>
<line x1="385.7" y1="222.5" x2="385.7" y2="236.5" stroke="#ff0000" stroke-width="1.7"/>
<circle cx="385.7" cy="236.5" r="1.9" fill="#ff0000" stroke="none" stroke-width="1.4"/>
<line x1="385.7" y1="237" x2="385.7" y2="285" stroke="#ffff00" stroke-width="1.35"/>
<rect x="380.95" y="253" width="9.5" height="17.5" fill="#ff0000" stroke="none" stroke-width="1"/>
<text class="sf" x="385.7" y="264.93" font-size="8" fill="#fff" font-weight="bold" text-anchor="middle">R</text>
<text class="sf" x="361.2" y="235.24" font-size="9" fill="#fff" font-weight="bold" text-anchor="start" textLength="18" lengthAdjust="spacingAndGlyphs">1221</text>
<text class="sf" x="360.7" y="265.74" font-size="9" fill="#fff" font-weight="bold" text-anchor="start" textLength="13.5" lengthAdjust="spacingAndGlyphs">122</text>
<rect x="359.2" y="270.5" width="15.5" height="9.0" fill="#e8e8e8" stroke="#fff" stroke-width="0.8"/>
<text class="ss" x="366.95" y="277.45" font-size="6.8" fill="#1a1a1a" font-weight="bold" text-anchor="middle">复归</text>
<text class="ss" x="402.0" y="256.74" font-size="7.6" fill="#e6e6e6" font-weight="normal" text-anchor="start" textLength="15.5" lengthAdjust="spacingAndGlyphs">0.0A</text>
<text class="ss" x="402.0" y="264.74" font-size="7.6" fill="#e6e6e6" font-weight="normal" text-anchor="start" textLength="15.5" lengthAdjust="spacingAndGlyphs">0.0A</text>
<text class="ss" x="402.0" y="272.74" font-size="7.6" fill="#e6e6e6" font-weight="normal" text-anchor="start" textLength="15.5" lengthAdjust="spacingAndGlyphs">0.0A</text>
<line x1="499.2" y1="222.3" x2="506.2" y2="222.3" stroke="#ffff00" stroke-width="1.2"/>
<line x1="502.7" y1="215" x2="502.7" y2="222.5" stroke="#ffff00" stroke-width="1.35"/>
<line x1="502.7" y1="222.5" x2="502.7" y2="236.5" stroke="#ff0000" stroke-width="1.7"/>
<circle cx="502.7" cy="236.5" r="1.9" fill="#ff0000" stroke="none" stroke-width="1.4"/>
<line x1="502.7" y1="237" x2="502.7" y2="285" stroke="#ffff00" stroke-width="1.35"/>
<rect x="497.95" y="253" width="9.5" height="17.5" fill="#ff0000" stroke="none" stroke-width="1"/>
<text class="sf" x="502.7" y="264.93" font-size="8" fill="#fff" font-weight="bold" text-anchor="middle">R</text>
<text class="sf" x="478.2" y="235.24" font-size="9" fill="#fff" font-weight="bold" text-anchor="start" textLength="18" lengthAdjust="spacingAndGlyphs">1111</text>
<text class="sf" x="477.7" y="265.74" font-size="9" fill="#fff" font-weight="bold" text-anchor="start" textLength="13.5" lengthAdjust="spacingAndGlyphs">111</text>
<rect x="476.2" y="270.5" width="15.5" height="9.0" fill="#e8e8e8" stroke="#fff" stroke-width="0.8"/>
<text class="ss" x="483.95" y="277.45" font-size="6.8" fill="#1a1a1a" font-weight="bold" text-anchor="middle">复归</text>
<text class="ss" x="517.2" y="256.74" font-size="7.6" fill="#e6e6e6" font-weight="normal" text-anchor="start" textLength="15.5" lengthAdjust="spacingAndGlyphs">0.0A</text>
<text class="ss" x="517.2" y="264.74" font-size="7.6" fill="#e6e6e6" font-weight="normal" text-anchor="start" textLength="15.5" lengthAdjust="spacingAndGlyphs">0.0A</text>
<text class="ss" x="517.2" y="272.74" font-size="7.6" fill="#e6e6e6" font-weight="normal" text-anchor="start" textLength="15.5" lengthAdjust="spacingAndGlyphs">0.0A</text>
<line x1="752.8" y1="222.3" x2="759.8" y2="222.3" stroke="#ffff00" stroke-width="1.2"/>
<line x1="756.3" y1="215" x2="756.3" y2="222.5" stroke="#ffff00" stroke-width="1.35"/>
<line x1="756.3" y1="222.5" x2="756.3" y2="236.5" stroke="#ff0000" stroke-width="1.7"/>
<circle cx="756.3" cy="236.5" r="1.9" fill="#ff0000" stroke="none" stroke-width="1.4"/>
<line x1="756.3" y1="237" x2="756.3" y2="285" stroke="#ffff00" stroke-width="1.35"/>
<rect x="751.55" y="253" width="9.5" height="17.5" fill="#ff0000" stroke="none" stroke-width="1"/>
<text class="sf" x="756.3" y="264.93" font-size="8" fill="#fff" font-weight="bold" text-anchor="middle">R</text>
<text class="sf" x="731.8" y="235.24" font-size="9" fill="#fff" font-weight="bold" text-anchor="start" textLength="18" lengthAdjust="spacingAndGlyphs">1121</text>
<text class="sf" x="731.3" y="265.74" font-size="9" fill="#fff" font-weight="bold" text-anchor="start" textLength="13.5" lengthAdjust="spacingAndGlyphs">112</text>
<rect x="729.8" y="270.5" width="15.5" height="9.0" fill="#e8e8e8" stroke="#fff" stroke-width="0.8"/>
<text class="ss" x="737.55" y="277.45" font-size="6.8" fill="#1a1a1a" font-weight="bold" text-anchor="middle">复归</text>
<text class="ss" x="770.0999999999999" y="256.74" font-size="7.6" fill="#e6e6e6" font-weight="normal" text-anchor="start" textLength="15.5" lengthAdjust="spacingAndGlyphs">0.0A</text>
<text class="ss" x="770.0999999999999" y="264.74" font-size="7.6" fill="#e6e6e6" font-weight="normal" text-anchor="start" textLength="15.5" lengthAdjust="spacingAndGlyphs">0.0A</text>
<text class="ss" x="770.0999999999999" y="272.74" font-size="7.6" fill="#e6e6e6" font-weight="normal" text-anchor="start" textLength="15.5" lengthAdjust="spacingAndGlyphs">0.0A</text>
<line x1="111" y1="369.4" x2="502.5" y2="369.4" stroke="#00ff00" stroke-width="1.5"/>
<line x1="111" y1="378.4" x2="502.5" y2="378.4" stroke="#00ff00" stroke-width="1.5"/>
<text class="sf" x="111.5" y="366.44" font-size="9" fill="#fff" font-weight="bold" text-anchor="start" textLength="33" lengthAdjust="spacingAndGlyphs">DC1500V</text>
<text class="ss" x="102.5" y="372.18" font-size="8" fill="#fff" font-weight="bold" text-anchor="middle">+</text>
<text class="ss" x="102.5" y="380.88" font-size="8" fill="#fff" font-weight="bold" text-anchor="middle">−</text>
<circle cx="229" cy="290.8" r="5.6" fill="none" stroke="#ffff00" stroke-width="1.4"/>
<polygon points="229,288.4 226.2,293.44 231.8,293.44" fill="none" stroke="#ffff00" stroke-width="1.25"/>
<circle cx="223.8" cy="300.4" r="5.6" fill="none" stroke="#ffff00" stroke-width="1.4"/>
<circle cx="234.2" cy="300.4" r="5.6" fill="none" stroke="#ffff00" stroke-width="1.4"/>
<polygon points="234.2,298.09999999999997 231.39999999999998,303.14 237.0,303.14" fill="none" stroke="#ffff00" stroke-width="1.25"/>
<line x1="223.8" y1="300.6" x2="223.8" y2="303.8" stroke="#ffff00" stroke-width="1.3"/>
<line x1="223.8" y1="300.6" x2="221.3" y2="297.4" stroke="#ffff00" stroke-width="1.3"/>
<line x1="223.8" y1="300.6" x2="226.3" y2="297.4" stroke="#ffff00" stroke-width="1.3"/>
<line x1="224.2" y1="306" x2="224.2" y2="312.5" stroke="#ffff00" stroke-width="1.3"/>
<line x1="234.4" y1="306" x2="234.4" y2="312.5" stroke="#ffff00" stroke-width="1.3"/>
<rect x="220.8" y="312.3" width="16.8" height="8.8" fill="none" stroke="#00ff00" stroke-width="1.3"/>
<line x1="222" y1="320" x2="236.4" y2="313.5" stroke="#00ff00" stroke-width="1"/>
<polyline points="222.5,315.5 224,314.3 225.5,315.5 227,314.3" stroke="#00ff00" stroke-width="0.9" fill="none"/>
<line x1="230.5" y1="319" x2="235.4" y2="319" stroke="#00ff00" stroke-width="0.9"/>
<polyline points="220.8,316.7 191,316.7 191,332" stroke="#00ff00" stroke-width="1.35" fill="none"/>
<polyline points="237.2,316.7 268,316.7 268,324" stroke="#00ff00" stroke-width="1.35" fill="none"/>
<line x1="187" y1="332" x2="195" y2="332" stroke="#00ff00" stroke-width="1.3"/>
<line x1="191" y1="332" x2="191" y2="346.3" stroke="#ff0000" stroke-width="1.7"/>
<circle cx="191" cy="346.3" r="1.9" fill="#ff0000" stroke="none" stroke-width="1.4"/>
<line x1="191" y1="347" x2="191" y2="378" stroke="#00ff00" stroke-width="1.35"/>
<line x1="268" y1="324.5" x2="268" y2="361" stroke="#ff0000" stroke-width="2.6"/>
<path d="M263,332.3 C263.3,329.1 266,326.7 268,324.5 C270,326.7 272.7,329.1 273,332.3" stroke="#ff0000" stroke-width="2.4" fill="none" stroke-linejoin="miter"/>
<path d="M263,353.2 C263.3,356.4 266,358.8 268,361 C270,358.8 272.7,356.4 273,353.2" stroke="#ff0000" stroke-width="2.4" fill="none" stroke-linejoin="miter"/>
<rect x="263.25" y="334.7" width="9.5" height="16.80000000000001" fill="#ff0000" stroke="none" stroke-width="1"/>
<text class="sf" x="268" y="346.28" font-size="8" fill="#fff" font-weight="bold" text-anchor="middle">R</text>
<line x1="268" y1="362" x2="268" y2="369" stroke="#00ff00" stroke-width="1.35"/>
<circle cx="385.7" cy="290.8" r="5.6" fill="none" stroke="#ffff00" stroke-width="1.4"/>
<polygon points="385.7,288.4 382.9,293.44 388.5,293.44" fill="none" stroke="#ffff00" stroke-width="1.25"/>
<circle cx="380.5" cy="300.4" r="5.6" fill="none" stroke="#ffff00" stroke-width="1.4"/>
<circle cx="390.9" cy="300.4" r="5.6" fill="none" stroke="#ffff00" stroke-width="1.4"/>
<polygon points="390.9,298.09999999999997 388.09999999999997,303.14 393.7,303.14" fill="none" stroke="#ffff00" stroke-width="1.25"/>
<line x1="380.5" y1="300.6" x2="380.5" y2="303.8" stroke="#ffff00" stroke-width="1.3"/>
<line x1="380.5" y1="300.6" x2="378.0" y2="297.4" stroke="#ffff00" stroke-width="1.3"/>
<line x1="380.5" y1="300.6" x2="383.0" y2="297.4" stroke="#ffff00" stroke-width="1.3"/>
<line x1="380.9" y1="306" x2="380.9" y2="312.5" stroke="#ffff00" stroke-width="1.3"/>
<line x1="391.09999999999997" y1="306" x2="391.09999999999997" y2="312.5" stroke="#ffff00" stroke-width="1.3"/>
<rect x="377.5" y="312.3" width="16.8" height="8.8" fill="none" stroke="#00ff00" stroke-width="1.3"/>
<line x1="378.7" y1="320" x2="393.09999999999997" y2="313.5" stroke="#00ff00" stroke-width="1"/>
<polyline points="379.2,315.5 380.7,314.3 382.2,315.5 383.7,314.3" stroke="#00ff00" stroke-width="0.9" fill="none"/>
<line x1="387.2" y1="319" x2="392.09999999999997" y2="319" stroke="#00ff00" stroke-width="0.9"/>
<polyline points="377.5,316.7 347,316.7 347,332" stroke="#00ff00" stroke-width="1.35" fill="none"/>
<polyline points="393.9,316.7 424.7,316.7 424.7,324" stroke="#00ff00" stroke-width="1.35" fill="none"/>
<line x1="343" y1="332" x2="351" y2="332" stroke="#00ff00" stroke-width="1.3"/>
<line x1="347" y1="332" x2="347" y2="346.3" stroke="#ff0000" stroke-width="1.7"/>
<circle cx="347" cy="346.3" r="1.9" fill="#ff0000" stroke="none" stroke-width="1.4"/>
<line x1="347" y1="347" x2="347" y2="378" stroke="#00ff00" stroke-width="1.35"/>
<line x1="424.7" y1="324.5" x2="424.7" y2="361" stroke="#ff0000" stroke-width="2.6"/>
<path d="M419.7,332.3 C420.0,329.1 422.7,326.7 424.7,324.5 C426.7,326.7 429.4,329.1 429.7,332.3" stroke="#ff0000" stroke-width="2.4" fill="none" stroke-linejoin="miter"/>
<path d="M419.7,353.2 C420.0,356.4 422.7,358.8 424.7,361 C426.7,358.8 429.4,356.4 429.7,353.2" stroke="#ff0000" stroke-width="2.4" fill="none" stroke-linejoin="miter"/>
<rect x="419.95" y="334.7" width="9.5" height="16.80000000000001" fill="#ff0000" stroke="none" stroke-width="1"/>
<text class="sf" x="424.7" y="346.28" font-size="8" fill="#fff" font-weight="bold" text-anchor="middle">R</text>
<line x1="424.7" y1="362" x2="424.7" y2="369" stroke="#00ff00" stroke-width="1.35"/>
<text class="sf" x="166" y="344.24" font-size="9" fill="#fff" font-weight="bold" text-anchor="start" textLength="18.5" lengthAdjust="spacingAndGlyphs">2012</text>
<text class="sf" x="323" y="344.24" font-size="9" fill="#fff" font-weight="bold" text-anchor="start" textLength="18.5" lengthAdjust="spacingAndGlyphs">2022</text>
<text class="sf" x="242.3" y="347.24" font-size="9" fill="#fff" font-weight="bold" text-anchor="start" textLength="13.5" lengthAdjust="spacingAndGlyphs">201</text>
<rect x="241" y="351" width="16" height="9.5" fill="#e8e8e8" stroke="#fff" stroke-width="0.8"/>
<text class="ss" x="249.0" y="358.2" font-size="6.8" fill="#1a1a1a" font-weight="bold" text-anchor="middle">复归</text>
<text class="ss" x="284" y="346.74" font-size="7.6" fill="#e6e6e6" font-weight="normal" text-anchor="start" textLength="15.5" lengthAdjust="spacingAndGlyphs">0.0A</text>
<text class="sf" x="399.0" y="347.24" font-size="9" fill="#fff" font-weight="bold" text-anchor="start" textLength="13.5" lengthAdjust="spacingAndGlyphs">202</text>
<rect x="397.7" y="351" width="16.0" height="9.5" fill="#e8e8e8" stroke="#fff" stroke-width="0.8"/>
<text class="ss" x="405.7" y="358.2" font-size="6.8" fill="#1a1a1a" font-weight="bold" text-anchor="middle">复归</text>
<text class="ss" x="440.7" y="346.74" font-size="7.6" fill="#e6e6e6" font-weight="normal" text-anchor="start" textLength="15.5" lengthAdjust="spacingAndGlyphs">0.0A</text>
<circle cx="502.7" cy="300.6" r="5.6" fill="none" stroke="#0000ff" stroke-width="1.4"/>
<line x1="502.7" y1="301.2" x2="502.7" y2="298.2" stroke="#0000ff" stroke-width="1"/>
<line x1="502.7" y1="301.2" x2="499.7" y2="303.59999999999997" stroke="#0000ff" stroke-width="1"/>
<line x1="502.7" y1="301.2" x2="505.7" y2="303.59999999999997" stroke="#0000ff" stroke-width="1"/>
<circle cx="502.7" cy="291.2" r="5.6" fill="none" stroke="#ffff00" stroke-width="1.4"/>
<polygon points="502.7,288.6 500.0,293.4 505.4,293.4" fill="none" stroke="#ffff00" stroke-width="1.3"/>
<circle cx="756.3" cy="300.6" r="5.6" fill="none" stroke="#0000ff" stroke-width="1.4"/>
<line x1="756.3" y1="301.2" x2="756.3" y2="298.2" stroke="#0000ff" stroke-width="1"/>
<line x1="756.3" y1="301.2" x2="753.3" y2="303.59999999999997" stroke="#0000ff" stroke-width="1"/>
<line x1="756.3" y1="301.2" x2="759.3" y2="303.59999999999997" stroke="#0000ff" stroke-width="1"/>
<circle cx="756.3" cy="291.2" r="5.6" fill="none" stroke="#ffff00" stroke-width="1.4"/>
<polygon points="756.3,288.6 753.5999999999999,293.4 759.0,293.4" fill="none" stroke="#ffff00" stroke-width="1.3"/>
<polyline points="502.7,306.2 502.7,336.6 642,336.6 642,352" stroke="#0000ff" stroke-width="1.25" fill="none"/>
<polyline points="756.3,306.2 756.3,336.6 812.5,336.6 812.5,352" stroke="#0000ff" stroke-width="1.25" fill="none"/>
<line x1="111" y1="465.5" x2="242.3" y2="465.5" stroke="#00ff00" stroke-width="1.5"/>
<line x1="247.7" y1="465.5" x2="544.5" y2="465.5" stroke="#00ff00" stroke-width="1.5"/>
<line x1="111" y1="495.3" x2="399.8" y2="495.3" stroke="#00ff00" stroke-width="1.5"/>
<line x1="405" y1="495.3" x2="544.5" y2="495.3" stroke="#00ff00" stroke-width="1.5"/>
<line x1="242.6" y1="461" x2="242.6" y2="470" stroke="#00ff00" stroke-width="1.5"/>
<line x1="247.4" y1="461" x2="247.4" y2="470" stroke="#00ff00" stroke-width="1.5"/>
<line x1="400" y1="491" x2="400" y2="500" stroke="#00ff00" stroke-width="1.5"/>
<line x1="405" y1="491" x2="405" y2="500" stroke="#00ff00" stroke-width="1.5"/>
<text class="ss" x="113" y="461.95" font-size="8.2" fill="#e0e0e0" font-weight="normal" text-anchor="start" textLength="39" lengthAdjust="spacingAndGlyphs">上行接触网</text>
<text class="ss" x="113" y="490.95" font-size="8.2" fill="#e0e0e0" font-weight="normal" text-anchor="start" textLength="39" lengthAdjust="spacingAndGlyphs">下行接触网</text>
<text class="sf" x="119.5" y="393.24" font-size="9" fill="#fff" font-weight="bold" text-anchor="start" textLength="27" lengthAdjust="spacingAndGlyphs">负极柜</text>
<rect x="111" y="400" width="41.5" height="9.300000000000011" fill="#e8e8e8" stroke="#fff" stroke-width="0.8"/>
<text class="ss" x="131.75" y="407.1" font-size="6.8" fill="#1a1a1a" font-weight="bold" text-anchor="middle" textLength="38.0" lengthAdjust="spacingAndGlyphs">框架保护复归</text>
<line x1="207" y1="369" x2="207" y2="386" stroke="#00ff00" stroke-width="1.35"/>
<line x1="207" y1="387" x2="207" y2="423.5" stroke="#ff0000" stroke-width="2.6"/>
<path d="M202,394.8 C202.3,391.6 205,389.2 207,387 C209,389.2 211.7,391.6 212,394.8" stroke="#ff0000" stroke-width="2.4" fill="none" stroke-linejoin="miter"/>
<path d="M202,415.7 C202.3,418.9 205,421.3 207,423.5 C209,421.3 211.7,418.9 212,415.7" stroke="#ff0000" stroke-width="2.4" fill="none" stroke-linejoin="miter"/>
<rect x="202.25" y="397.5" width="9.5" height="16.5" fill="#00ff00" stroke="none" stroke-width="1"/>
<text class="sf" x="207" y="408.93" font-size="8" fill="#fff" font-weight="bold" text-anchor="middle">R</text>
<line x1="207" y1="424" x2="207" y2="465" stroke="#00ff00" stroke-width="1.35"/>
<circle cx="207" cy="445.3" r="5.3" fill="#ffa500" stroke="none" stroke-width="1.4"/>
<text class="sf" x="180.5" y="409.24" font-size="9" fill="#fff" font-weight="bold" text-anchor="start" textLength="13.5" lengthAdjust="spacingAndGlyphs">211</text>
<rect x="180.5" y="414.3" width="16.0" height="9.699999999999989" fill="#e8e8e8" stroke="#fff" stroke-width="0.8"/>
<text class="ss" x="188.5" y="421.6" font-size="6.8" fill="#1a1a1a" font-weight="bold" text-anchor="middle">复归</text>
<text class="sf" x="179.5" y="448.94" font-size="9" fill="#fff" font-weight="bold" text-anchor="start" textLength="18" lengthAdjust="spacingAndGlyphs">2111</text>
<text class="sf" x="212.5" y="457.06" font-size="8.5" fill="#fff" font-weight="bold" text-anchor="start">R</text>
<text class="ss" x="227" y="400.74" font-size="7.6" fill="#e6e6e6" font-weight="normal" text-anchor="start" textLength="15.5" lengthAdjust="spacingAndGlyphs">0.0V</text>
<text class="ss" x="227" y="408.74" font-size="7.6" fill="#e6e6e6" font-weight="normal" text-anchor="start" textLength="15.5" lengthAdjust="spacingAndGlyphs">0.0A</text>
<line x1="283" y1="369" x2="283" y2="386" stroke="#00ff00" stroke-width="1.35"/>
<line x1="283" y1="387" x2="283" y2="423.5" stroke="#ff0000" stroke-width="2.6"/>
<path d="M278,394.8 C278.3,391.6 281,389.2 283,387 C285,389.2 287.7,391.6 288,394.8" stroke="#ff0000" stroke-width="2.4" fill="none" stroke-linejoin="miter"/>
<path d="M278,415.7 C278.3,418.9 281,421.3 283,423.5 C285,421.3 287.7,418.9 288,415.7" stroke="#ff0000" stroke-width="2.4" fill="none" stroke-linejoin="miter"/>
<rect x="278.25" y="397.5" width="9.5" height="16.5" fill="#00ff00" stroke="none" stroke-width="1"/>
<text class="sf" x="283" y="408.93" font-size="8" fill="#fff" font-weight="bold" text-anchor="middle">R</text>
<line x1="283" y1="424" x2="283" y2="465" stroke="#00ff00" stroke-width="1.35"/>
<circle cx="283" cy="445.3" r="5.3" fill="#ffa500" stroke="none" stroke-width="1.4"/>
<text class="sf" x="256.5" y="409.24" font-size="9" fill="#fff" font-weight="bold" text-anchor="start" textLength="13.5" lengthAdjust="spacingAndGlyphs">213</text>
<rect x="256.5" y="414.3" width="16.0" height="9.699999999999989" fill="#e8e8e8" stroke="#fff" stroke-width="0.8"/>
<text class="ss" x="264.5" y="421.6" font-size="6.8" fill="#1a1a1a" font-weight="bold" text-anchor="middle">复归</text>
<text class="sf" x="255.5" y="448.94" font-size="9" fill="#fff" font-weight="bold" text-anchor="start" textLength="18" lengthAdjust="spacingAndGlyphs">2131</text>
<text class="sf" x="288.5" y="457.06" font-size="8.5" fill="#fff" font-weight="bold" text-anchor="start">R</text>
<text class="ss" x="303" y="400.74" font-size="7.6" fill="#e6e6e6" font-weight="normal" text-anchor="start" textLength="15.5" lengthAdjust="spacingAndGlyphs">0.0V</text>
<text class="ss" x="303" y="408.74" font-size="7.6" fill="#e6e6e6" font-weight="normal" text-anchor="start" textLength="15.5" lengthAdjust="spacingAndGlyphs">0.0A</text>
<line x1="362" y1="369" x2="362" y2="386" stroke="#00ff00" stroke-width="1.35"/>
<line x1="362" y1="387" x2="362" y2="423.5" stroke="#ff0000" stroke-width="2.6"/>
<path d="M357,394.8 C357.3,391.6 360,389.2 362,387 C364,389.2 366.7,391.6 367,394.8" stroke="#ff0000" stroke-width="2.4" fill="none" stroke-linejoin="miter"/>
<path d="M357,415.7 C357.3,418.9 360,421.3 362,423.5 C364,421.3 366.7,418.9 367,415.7" stroke="#ff0000" stroke-width="2.4" fill="none" stroke-linejoin="miter"/>
<rect x="357.25" y="397.5" width="9.5" height="16.5" fill="#00ff00" stroke="none" stroke-width="1"/>
<text class="sf" x="362" y="408.93" font-size="8" fill="#fff" font-weight="bold" text-anchor="middle">R</text>
<line x1="362" y1="424" x2="362" y2="495" stroke="#00ff00" stroke-width="1.35"/>
<circle cx="362" cy="445.3" r="5.3" fill="#ffa500" stroke="none" stroke-width="1.4"/>
<text class="sf" x="335.5" y="409.24" font-size="9" fill="#fff" font-weight="bold" text-anchor="start" textLength="13.5" lengthAdjust="spacingAndGlyphs">212</text>
<rect x="335.5" y="414.3" width="16.0" height="9.699999999999989" fill="#e8e8e8" stroke="#fff" stroke-width="0.8"/>
<text class="ss" x="343.5" y="421.6" font-size="6.8" fill="#1a1a1a" font-weight="bold" text-anchor="middle">复归</text>
<text class="sf" x="334.5" y="448.94" font-size="9" fill="#fff" font-weight="bold" text-anchor="start" textLength="18" lengthAdjust="spacingAndGlyphs">2121</text>
<text class="sf" x="367.5" y="457.06" font-size="8.5" fill="#fff" font-weight="bold" text-anchor="start">R</text>
<text class="ss" x="382" y="400.74" font-size="7.6" fill="#e6e6e6" font-weight="normal" text-anchor="start" textLength="15.5" lengthAdjust="spacingAndGlyphs">0.0V</text>
<text class="ss" x="382" y="408.74" font-size="7.6" fill="#e6e6e6" font-weight="normal" text-anchor="start" textLength="15.5" lengthAdjust="spacingAndGlyphs">0.0A</text>
<line x1="439.3" y1="369" x2="439.3" y2="386" stroke="#00ff00" stroke-width="1.35"/>
<line x1="439.3" y1="387" x2="439.3" y2="423.5" stroke="#ff0000" stroke-width="2.6"/>
<path d="M434.3,394.8 C434.6,391.6 437.3,389.2 439.3,387 C441.3,389.2 444.0,391.6 444.3,394.8" stroke="#ff0000" stroke-width="2.4" fill="none" stroke-linejoin="miter"/>
<path d="M434.3,415.7 C434.6,418.9 437.3,421.3 439.3,423.5 C441.3,421.3 444.0,418.9 444.3,415.7" stroke="#ff0000" stroke-width="2.4" fill="none" stroke-linejoin="miter"/>
<rect x="434.55" y="397.5" width="9.5" height="16.5" fill="#ffa500" stroke="none" stroke-width="1"/>
<text class="sf" x="439.3" y="408.93" font-size="8" fill="#fff" font-weight="bold" text-anchor="middle">R</text>
<line x1="439.3" y1="424" x2="439.3" y2="495" stroke="#00ff00" stroke-width="1.35"/>
<circle cx="439.3" cy="445.3" r="5.3" fill="#ffa500" stroke="none" stroke-width="1.4"/>
<text class="sf" x="412.8" y="409.24" font-size="9" fill="#fff" font-weight="bold" text-anchor="start" textLength="13.5" lengthAdjust="spacingAndGlyphs">214</text>
<rect x="412.8" y="414.3" width="16.0" height="9.699999999999989" fill="#e8e8e8" stroke="#fff" stroke-width="0.8"/>
<text class="ss" x="420.8" y="421.6" font-size="6.8" fill="#1a1a1a" font-weight="bold" text-anchor="middle">复归</text>
<text class="sf" x="411.8" y="448.94" font-size="9" fill="#fff" font-weight="bold" text-anchor="start" textLength="18" lengthAdjust="spacingAndGlyphs">2141</text>
<text class="sf" x="444.8" y="457.06" font-size="8.5" fill="#fff" font-weight="bold" text-anchor="start">R</text>
<text class="ss" x="459.3" y="400.74" font-size="7.6" fill="#e6e6e6" font-weight="normal" text-anchor="start" textLength="15.5" lengthAdjust="spacingAndGlyphs">0.0V</text>
<text class="ss" x="459.3" y="408.74" font-size="7.6" fill="#e6e6e6" font-weight="normal" text-anchor="start" textLength="15.5" lengthAdjust="spacingAndGlyphs">0.0A</text>
<polyline points="224.3,465.5 224.3,480.7 265.5,480.7 265.5,465.5" stroke="#00ff00" stroke-width="1.5" fill="none"/>
<circle cx="245.5" cy="481" r="5.6" fill="#00ff00" stroke="none" stroke-width="1.4"/>
<text class="sf" x="219.5" y="490.24" font-size="9" fill="#fff" font-weight="bold" text-anchor="start" textLength="18.5" lengthAdjust="spacingAndGlyphs">2113</text>
<text class="sf" x="251" y="493.06" font-size="8.5" fill="#fff" font-weight="bold" text-anchor="start">R</text>
<polyline points="381,495.3 381,480.7 422.5,480.7 422.5,495.3" stroke="#00ff00" stroke-width="1.5" fill="none"/>
<circle cx="402" cy="480.7" r="5.6" fill="#00ff00" stroke="none" stroke-width="1.4"/>
<text class="sf" x="375" y="478.74" font-size="9" fill="#fff" font-weight="bold" text-anchor="start" textLength="18.5" lengthAdjust="spacingAndGlyphs">2124</text>
<text class="sf" x="407.5" y="492.56" font-size="8.5" fill="#fff" font-weight="bold" text-anchor="start">R</text>
<polyline points="501,450.5 480.5,450.5 480.5,465.5" stroke="#00ff00" stroke-width="1.5" fill="none"/>
<polyline points="501,450.5 522,450.5 522,480.5" stroke="#fff" stroke-width="1.4" fill="none"/>
<circle cx="501" cy="450.5" r="5.6" fill="#00ff00" stroke="none" stroke-width="1.4"/>
<text class="sf" x="473" y="448.24" font-size="9" fill="#fff" font-weight="bold" text-anchor="start" textLength="19.5" lengthAdjust="spacingAndGlyphs">CW02</text>
<text class="sf" x="506" y="462.06" font-size="8.5" fill="#fff" font-weight="bold" text-anchor="start">R</text>
<polyline points="481,480.5 459.5,480.5 459.5,495.3" stroke="#00ff00" stroke-width="1.5" fill="none"/>
<line x1="481" y1="480.5" x2="535" y2="480.5" stroke="#fff" stroke-width="1.4"/>
<circle cx="481" cy="480.5" r="5.6" fill="#00ff00" stroke="none" stroke-width="1.4"/>
<text class="sf" x="453" y="478.24" font-size="9" fill="#fff" font-weight="bold" text-anchor="start" textLength="19.5" lengthAdjust="spacingAndGlyphs">CW01</text>
<text class="sf" x="486" y="492.56" font-size="8.5" fill="#fff" font-weight="bold" text-anchor="start">R</text>
<text class="ss" x="510" y="489.04" font-size="7.6" fill="#d0d0d0" font-weight="normal" text-anchor="start" textLength="23" lengthAdjust="spacingAndGlyphs">停车线</text>
<text class="ss" x="72" y="477.31" font-size="7.8" fill="#d0d0d0" font-weight="normal" text-anchor="start" textLength="31" lengthAdjust="spacingAndGlyphs">市府大路</text>
<line x1="66" y1="481" x2="109" y2="481" stroke="#00ff00" stroke-width="1.4"/>
<polygon points="59,481 68,477.7 68,484.3" fill="#00ff00"/>
<text class="ss" x="551" y="477.31" font-size="7.8" fill="#d0d0d0" font-weight="normal" text-anchor="start" textLength="31.5" lengthAdjust="spacingAndGlyphs">南五马路</text>
<line x1="546" y1="481" x2="589" y2="481" stroke="#00ff00" stroke-width="1.4"/>
<polygon points="596.5,481 587.5,477.7 587.5,484.3" fill="#00ff00"/>
<line x1="614" y1="406" x2="717" y2="406" stroke="#0000ff" stroke-width="1.4"/>
<line x1="740.5" y1="406" x2="843" y2="406" stroke="#0000ff" stroke-width="1.4"/>
<text class="sf" x="655" y="400.74" font-size="9" fill="#fff" font-weight="bold" text-anchor="start" textLength="46" lengthAdjust="spacingAndGlyphs">AC400V I段</text>
<text class="sf" x="748" y="400.74" font-size="9" fill="#fff" font-weight="bold" text-anchor="start" textLength="51" lengthAdjust="spacingAndGlyphs">AC400V II段</text>
<line x1="642" y1="353" x2="642" y2="390.5" stroke="#ff0000" stroke-width="2.6"/>
<path d="M637,360.8 C637.3,357.6 640,355.2 642,353 C644,355.2 646.7,357.6 647,360.8" stroke="#ff0000" stroke-width="2.4" fill="none" stroke-linejoin="miter"/>
<path d="M637,382.7 C637.3,385.9 640,388.3 642,390.5 C644,388.3 646.7,385.9 647,382.7" stroke="#ff0000" stroke-width="2.4" fill="none" stroke-linejoin="miter"/>
<rect x="637.0" y="363" width="10" height="18" fill="#00ff00" stroke="none" stroke-width="1"/>
<text class="sf" x="642" y="375.18" font-size="8" fill="#fff" font-weight="bold" text-anchor="middle">R</text>
<line x1="642" y1="391" x2="642" y2="422" stroke="#0000ff" stroke-width="1.25"/>
<line x1="642" y1="423" x2="642" y2="460.5" stroke="#ff0000" stroke-width="2.6"/>
<path d="M637,430.8 C637.3,427.6 640,425.2 642,423 C644,425.2 646.7,427.6 647,430.8" stroke="#ff0000" stroke-width="2.4" fill="none" stroke-linejoin="miter"/>
<path d="M637,452.7 C637.3,455.9 640,458.3 642,460.5 C644,458.3 646.7,455.9 647,452.7" stroke="#ff0000" stroke-width="2.4" fill="none" stroke-linejoin="miter"/>
<rect x="637.0" y="433" width="10" height="18" fill="#ff0000" stroke="none" stroke-width="1"/>
<text class="sf" x="642" y="445.18" font-size="8" fill="#fff" font-weight="bold" text-anchor="middle">R</text>
<line x1="642" y1="461" x2="642" y2="492" stroke="#0000ff" stroke-width="1.25"/>
<text class="sf" x="615.5" y="375.24" font-size="9" fill="#fff" font-weight="bold" text-anchor="start" textLength="13.5" lengthAdjust="spacingAndGlyphs">801</text>
<text class="sf" x="615.5" y="445.74" font-size="9" fill="#fff" font-weight="bold" text-anchor="start" textLength="13.5" lengthAdjust="spacingAndGlyphs">901</text>
<rect x="654.5" y="352" width="28.5" height="9.300000000000011" fill="#e8e8e8" stroke="#fff" stroke-width="0.8"/>
<text class="ss" x="668.75" y="359.1" font-size="6.8" fill="#1a1a1a" font-weight="bold" text-anchor="middle" textLength="25.0" lengthAdjust="spacingAndGlyphs">手投手复</text>
<polygon points="660,367.5 664.5,372 660,376.5 655.5,372" fill="#00ff00"/>
<text class="ss" x="668" y="374.52" font-size="7" fill="#dedede" font-weight="normal" text-anchor="start" textLength="13" lengthAdjust="spacingAndGlyphs">退出</text>
<line x1="812.5" y1="353" x2="812.5" y2="390.5" stroke="#ff0000" stroke-width="2.6"/>
<path d="M807.5,360.8 C807.8,357.6 810.5,355.2 812.5,353 C814.5,355.2 817.2,357.6 817.5,360.8" stroke="#ff0000" stroke-width="2.4" fill="none" stroke-linejoin="miter"/>
<path d="M807.5,382.7 C807.8,385.9 810.5,388.3 812.5,390.5 C814.5,388.3 817.2,385.9 817.5,382.7" stroke="#ff0000" stroke-width="2.4" fill="none" stroke-linejoin="miter"/>
<rect x="807.5" y="363" width="10" height="18" fill="#ff0000" stroke="none" stroke-width="1"/>
<text class="sf" x="812.5" y="375.18" font-size="8" fill="#fff" font-weight="bold" text-anchor="middle">R</text>
<line x1="812.5" y1="391" x2="812.5" y2="422" stroke="#0000ff" stroke-width="1.25"/>
<line x1="812.5" y1="423" x2="812.5" y2="460.5" stroke="#ff0000" stroke-width="2.6"/>
<path d="M807.5,430.8 C807.8,427.6 810.5,425.2 812.5,423 C814.5,425.2 817.2,427.6 817.5,430.8" stroke="#ff0000" stroke-width="2.4" fill="none" stroke-linejoin="miter"/>
<path d="M807.5,452.7 C807.8,455.9 810.5,458.3 812.5,460.5 C814.5,458.3 817.2,455.9 817.5,452.7" stroke="#ff0000" stroke-width="2.4" fill="none" stroke-linejoin="miter"/>
<rect x="807.5" y="433" width="10" height="18" fill="#ff0000" stroke="none" stroke-width="1"/>
<text class="sf" x="812.5" y="445.18" font-size="8" fill="#fff" font-weight="bold" text-anchor="middle">R</text>
<line x1="812.5" y1="461" x2="812.5" y2="492" stroke="#0000ff" stroke-width="1.25"/>
<text class="sf" x="786.0" y="375.24" font-size="9" fill="#fff" font-weight="bold" text-anchor="start" textLength="13.5" lengthAdjust="spacingAndGlyphs">802</text>
<text class="sf" x="786.0" y="445.74" font-size="9" fill="#fff" font-weight="bold" text-anchor="start" textLength="13.5" lengthAdjust="spacingAndGlyphs">902</text>
<rect x="825.0" y="352" width="28.5" height="9.300000000000011" fill="#e8e8e8" stroke="#fff" stroke-width="0.8"/>
<text class="ss" x="839.25" y="359.1" font-size="6.8" fill="#1a1a1a" font-weight="bold" text-anchor="middle" textLength="25.0" lengthAdjust="spacingAndGlyphs">手投手复</text>
<polygon points="830.5,367.5 835.0,372 830.5,376.5 826.0,372" fill="#00ff00"/>
<text class="ss" x="838.5" y="374.52" font-size="7" fill="#dedede" font-weight="normal" text-anchor="start" textLength="13" lengthAdjust="spacingAndGlyphs">退出</text>
<polyline points="699,406 699,422" stroke="#0000ff" stroke-width="1.25" fill="none"/>
<line x1="699" y1="423" x2="699" y2="460.5" stroke="#ff0000" stroke-width="2.6"/>
<path d="M694,430.8 C694.3,427.6 697,425.2 699,423 C701,425.2 703.7,427.6 704,430.8" stroke="#ff0000" stroke-width="2.4" fill="none" stroke-linejoin="miter"/>
<path d="M694,452.7 C694.3,455.9 697,458.3 699,460.5 C701,458.3 703.7,455.9 704,452.7" stroke="#ff0000" stroke-width="2.4" fill="none" stroke-linejoin="miter"/>
<rect x="694.0" y="433" width="10" height="18" fill="#00ff00" stroke="none" stroke-width="1"/>
<text class="sf" x="699" y="445.18" font-size="8" fill="#fff" font-weight="bold" text-anchor="middle">R</text>
<polyline points="699,461 699,474.5 757.5,474.5 757.5,406" stroke="#0000ff" stroke-width="1.25" fill="none"/>
<text class="sf" x="674" y="445.24" font-size="9" fill="#fff" font-weight="bold" text-anchor="start" textLength="13.5" lengthAdjust="spacingAndGlyphs">803</text>
<polygon points="717.5,436.5 722,441 717.5,445.5 713,441" fill="#ff0000"/>
<text class="ss" x="723" y="444.52" font-size="7" fill="#dedede" font-weight="normal" text-anchor="start" textLength="31.5" lengthAdjust="spacingAndGlyphs">备自投投入</text>
</svg>
</body></html>
